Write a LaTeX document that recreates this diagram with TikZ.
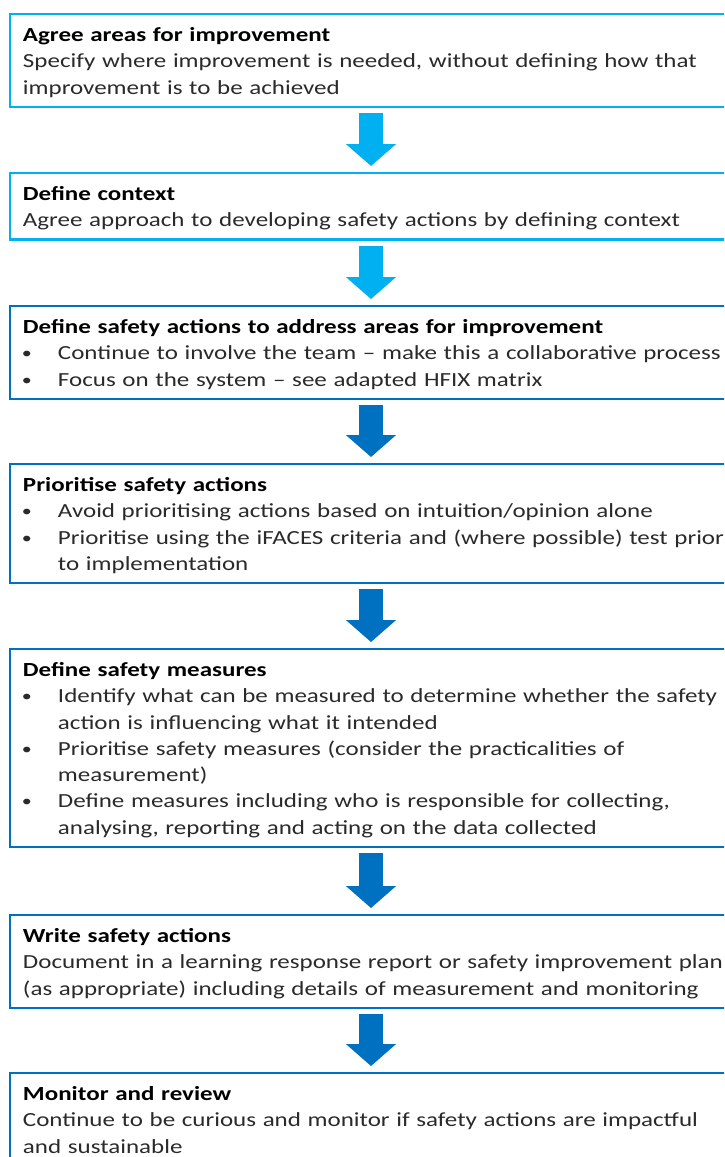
\documentclass[tikz,border=0pt]{standalone}
\usepackage{fontspec}
\setmainfont{Carlito}[FakeStretch=1.25]
\usetikzlibrary{arrows.meta}
\definecolor{lblue}{HTML}{00B0F0}
\definecolor{dblue}{HTML}{0070C0}
\definecolor{txt}{HTML}{2A2A2A}
\newcommand{\mystrut}{\rule[-5.9pt]{0pt}{26.3pt}}
\newcommand{\lne}[1]{\mbox{\mystrut#1}}
\newcommand{\bul}[1]{\mbox{\mystrut\makebox[35pt][l]{\hspace{-1pt}\raisebox{1pt}{\fontsize{16}{16}\selectfont\textbullet}}#1}}
\newcommand{\cont}[1]{\mbox{\mystrut\hspace*{35pt}#1}}
\newcommand{\ttl}[1]{\mbox{\mystrut\textbf{\color{black}#1}}}
\begin{document}
\begin{tikzpicture}[x=1pt,y=-1pt,
  box/.style={draw=#1, line width=2.5pt, fill=white, anchor=north west,
    minimum width=722pt, text width=696pt, inner xsep=13pt, inner ysep=7pt,
    outer sep=0pt, align=left, text=txt, font=\fontsize{20}{26.3}\selectfont},
  flow/.style={draw=#1, line width=24pt, -{Triangle[width=49pt,length=22pt]}}]
\useasboundingbox (0,0) rectangle (724,1157);
\clip (0,0) rectangle (724,1157);
\fill[white] (0,0) rectangle (724,1157);

\node[box=lblue] (b1) at (10,14) {\ttl{Agree areas for improvement}\\
  \lne{Specify where improvement is needed, without defining how that}\\
  \lne{improvement is to be achieved}};
\node[box=lblue] (b2) at (10,173) {\ttl{Define context}\\
  \lne{Agree approach to developing safety actions by defining context}};
\node[box=dblue] (b3) at (10,306) {\ttl{Define safety actions to address areas for improvement}\\
  \bul{Continue to involve the team -- make this a collaborative process}\\
  \bul{Focus on the system -- see adapted HFIX matrix}};
\node[box=dblue] (b4) at (10,464) {\ttl{Prioritise safety actions}\\
  \bul{Avoid prioritising actions based on intuition/opinion alone}\\
  \bul{Prioritise using the iFACES criteria and (where possible) test prior}\\
  \cont{to implementation}};
\node[box=dblue] (b5) at (10,649) {\ttl{Define safety measures}\\
  \bul{Identify what can be measured to determine whether the safety}\\
  \cont{action is influencing what it intended}\\
  \bul{Prioritise safety measures (consider the practicalities of}\\
  \cont{measurement)}\\
  \bul{Define measures including who is responsible for collecting,}\\
  \cont{analysing, reporting and acting on the data collected}};
\node[box=dblue] (b6) at (10,915) {\ttl{Write safety actions}\\
  \lne{Document in a learning response report or safety improvement plan}\\
  \lne{(as appropriate) including details of measurement and monitoring}};
\node[box=dblue] (b7) at (10,1073) {\ttl{Monitor and review}\\
  \lne{Continue to be curious and monitor if safety actions are impactful}\\
  \lne{and sustainable}};

\draw[flow=lblue] ([yshift=-6pt]b1.south) -- ([yshift=7pt]b2.north);
\draw[flow=lblue] ([yshift=-6pt]b2.south) -- ([yshift=7pt]b3.north);
\draw[flow=dblue] ([yshift=-6pt]b3.south) -- ([yshift=7pt]b4.north);
\draw[flow=dblue] ([yshift=-6pt]b4.south) -- ([yshift=7pt]b5.north);
\draw[flow=dblue] ([yshift=-6pt]b5.south) -- ([yshift=7pt]b6.north);
\draw[flow=dblue] ([yshift=-6pt]b6.south) -- ([yshift=7pt]b7.north);
\end{tikzpicture}
\end{document}
